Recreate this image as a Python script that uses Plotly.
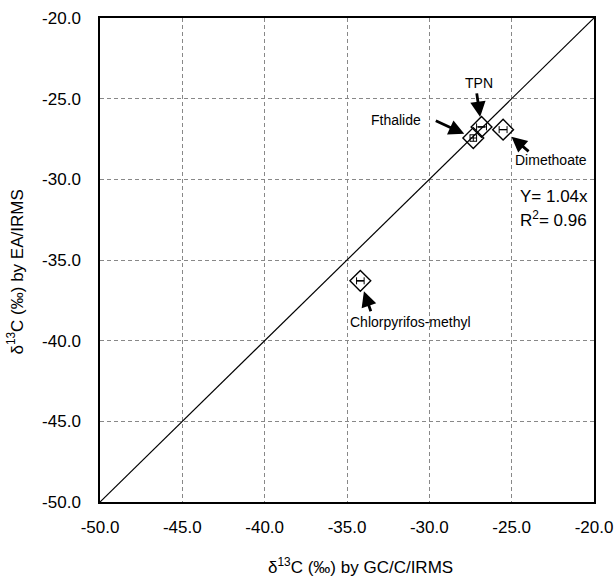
import plotly.graph_objects as go

compounds = ["TPN", "Fthalide", "Dimethoate", "Chlorpyrifos-methyl"]
gc_vals = [-26.83, -27.33, -25.52, -34.19]
ea_vals = [-26.75, -27.44, -26.92, -36.29]
gc_err = [0.3, 0.2, 0.24, 0.23]
ea_err = [0.0, 0.2, 0.0, 0.0]
line_x = [-50, -20]
line_y = [-50, -20]
ticks = [-50, -45, -40, -35, -30, -25, -20]
tick_text = ["-50.0", "-45.0", "-40.0", "-35.0", "-30.0", "-25.0", "-20.0"]

# arrow tail offsets (px, relative to point), standoffs, label shifts (px)
arrow_ax = [-5, -39, 27, 11]
arrow_ay = [-35, -18, 23, 32]
arrow_standoff = [10, 10, 11, 11]
label_dx = [-3, -77, 48, 50]
label_dy = [44, 18, -30, -41]

font = "Liberation Sans, Arial, sans-serif"

fig = go.Figure()
fig.add_trace(go.Scatter(x=line_x, y=line_y, mode="lines",
                         line=dict(color="black", width=1.2), showlegend=False,
                         hoverinfo="skip"))
fig.add_trace(go.Scatter(
    x=gc_vals, y=ea_vals, mode="markers", text=compounds,
    marker=dict(symbol="diamond-open", size=16, color="black",
                line=dict(color="black", width=1.4)),
    error_x=dict(type="data", array=gc_err, color="black", thickness=1, width=3.5),
    error_y=dict(type="data", array=ea_err, color="black", thickness=1, width=3.5),
    showlegend=False))

for name, x, y, ax, ay, so, dx, dy in zip(compounds, gc_vals, ea_vals, arrow_ax, arrow_ay,
                                          arrow_standoff, label_dx, label_dy):
    fig.add_annotation(x=x, y=y, xref="x", yref="y", text="", showarrow=True,
                       ax=ax, ay=ay, arrowhead=2, arrowsize=1.1, arrowwidth=2.8,
                       arrowcolor="black", standoff=so)
    fig.add_annotation(x=x, y=y, xref="x", yref="y", text=name, showarrow=False,
                       xshift=dx, yshift=dy,
                       font=dict(family=font, size=14, color="black"))

fig.add_annotation(x=-24.6, y=-31.08, xref="x", yref="y", text="Y= 1.04x",
                   showarrow=False, xanchor="left",
                   font=dict(family=font, size=17, color="black"))
fig.add_annotation(x=-24.6, y=-32.48, xref="x", yref="y", text="R<sup>2</sup>= 0.96",
                   showarrow=False, xanchor="left",
                   font=dict(family=font, size=17, color="black"))

# axis titles
fig.add_annotation(x=0.528, y=0, xref="paper", yref="paper", yshift=-64,
                   text="δ<sup>13</sup>C (‰) by GC/C/IRMS", showarrow=False,
                   yanchor="middle", font=dict(family=font, size=17, color="black"))
fig.add_annotation(x=0, y=0.474, xref="paper", yref="paper", xshift=-85,
                   text="δ<sup>13</sup>C (‰) by EA/IRMS", showarrow=False, textangle=-90,
                   xanchor="center", yanchor="middle",
                   font=dict(family=font, size=17, color="black"))

axis_common = dict(range=[-50, -20], tickvals=ticks, ticktext=tick_text,
                   showgrid=True, gridcolor="#888888", griddash="4px,3px", gridwidth=1,
                   showline=True, linecolor="black", linewidth=1.5, mirror=True,
                   zeroline=False, ticks="", automargin=False,
                   tickfont=dict(family=font, size=17, color="black"))

fig.update_xaxes(**axis_common, ticklabelstandoff=9)
fig.update_yaxes(**axis_common, ticklabelstandoff=14)

fig.update_layout(width=615, height=579, plot_bgcolor="white", paper_bgcolor="white",
                  margin=dict(l=100, r=21, t=18, b=77))

fig.write_html("out.html")
